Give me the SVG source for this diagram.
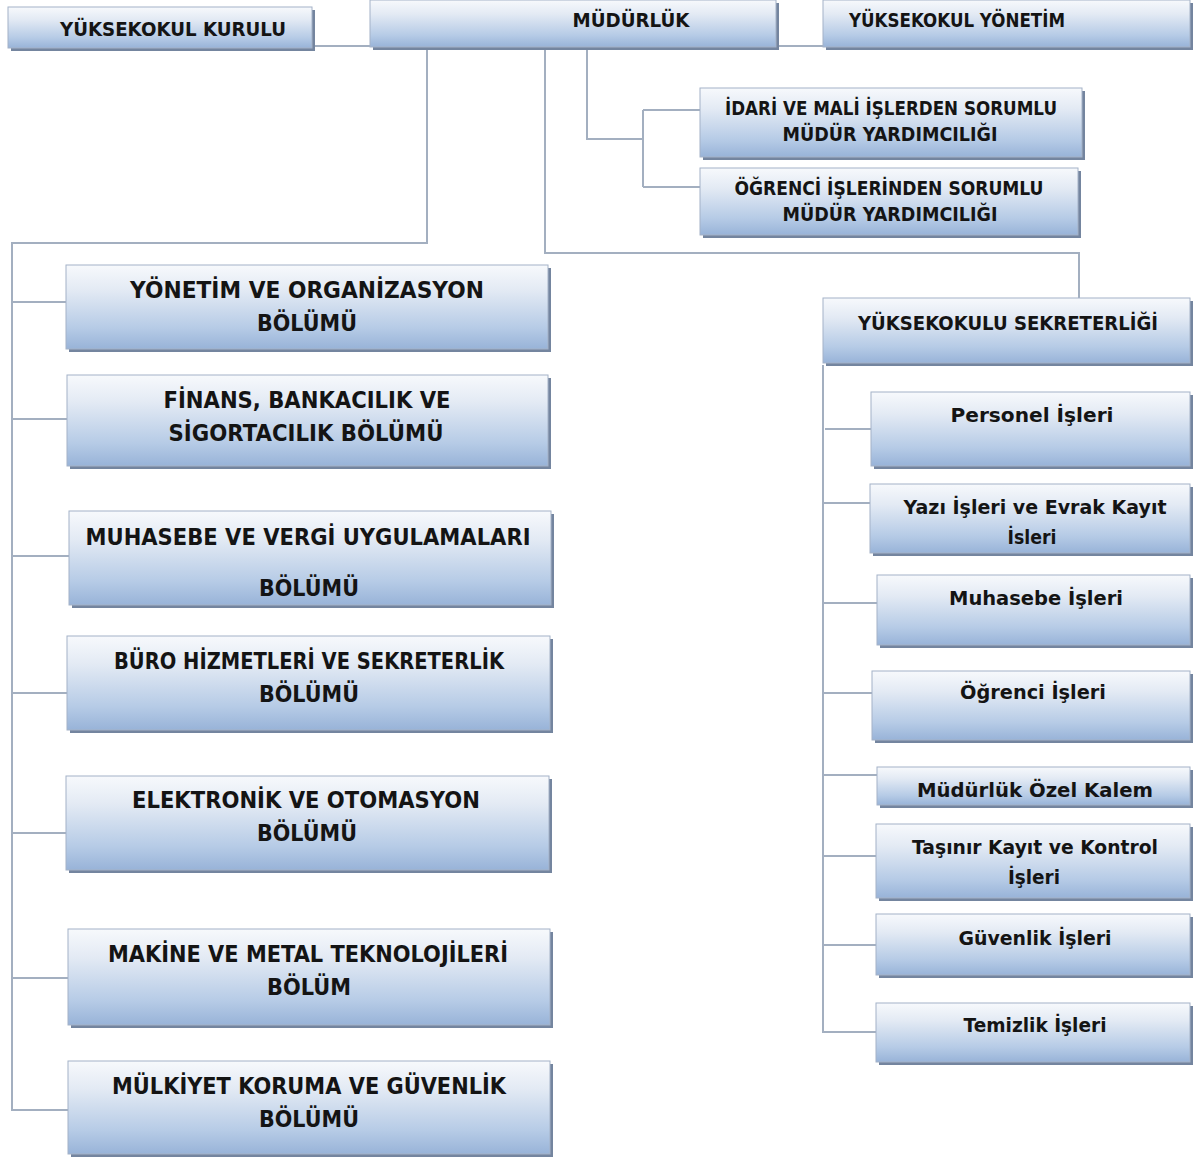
<svg xmlns="http://www.w3.org/2000/svg" width="1194" height="1158" viewBox="0 0 1194 1158">
<defs>
<linearGradient id="g" x1="0" y1="0" x2="0" y2="1">
<stop offset="0" stop-color="#f7f9fc"/>
<stop offset="0.3" stop-color="#e3eaf4"/>
<stop offset="0.75" stop-color="#b6cbe6"/>
<stop offset="1" stop-color="#98b3d8"/>
</linearGradient>
<style>
.s{fill:#74859f}
.b{fill:url(#g);stroke:#a4b2c7;stroke-width:1}
.c{fill:none;stroke:#a3afc0;stroke-width:2}
text{font-family:"DejaVu Sans","Liberation Sans",sans-serif;font-weight:bold;fill:#141414;text-anchor:middle}
.t{font-size:19px}
.l{font-size:23px}
.r{font-size:20px}
</style>
</defs>
<rect width="1194" height="1158" fill="#ffffff"/>
<g id="connectors">
<path class="c" d="M312 46H370M776 46H823"/>
<path class="c" d="M427 48V243H12V1110H68M12 302H66M12 419H67M12 556H69M12 693H67M12 833H66M12 978H68"/>
<path class="c" d="M545 48V253H1079V298"/>
<path class="c" d="M587 48V139H643M643 110V187M643 110H700M643 187H700"/>
<path class="c" d="M823 365V1032H876M825 429H871M823 503H870M823 603H877M823 693H872M823 775H877M823 856H876M823 945H876"/>
</g>
<g id="kurulu"><rect class="s" x="11" y="10" width="304" height="41"/><rect class="b" x="8" y="7" width="304" height="41"/><text class="t" x="173" y="36" textLength="226" lengthAdjust="spacingAndGlyphs">YÜKSEKOKUL KURULU</text></g>
<g id="mudurluk"><rect class="s" x="373" y="3" width="406" height="47"/><rect class="b" x="370" y="0" width="406" height="47"/><text class="t" x="631" y="27" textLength="117" lengthAdjust="spacingAndGlyphs">MÜDÜRLÜK</text></g>
<g id="yonetim"><rect class="s" x="826" y="3" width="367" height="47"/><rect class="b" x="823" y="0" width="367" height="47"/><text class="t" x="957" y="27" textLength="216" lengthAdjust="spacingAndGlyphs">YÜKSEKOKUL YÖNETİM</text></g>
<g id="idari"><rect class="s" x="703" y="91" width="382" height="69"/><rect class="b" x="700" y="88" width="382" height="69"/><text class="t" x="891" y="115" textLength="332" lengthAdjust="spacingAndGlyphs">İDARİ VE MALİ İŞLERDEN SORUMLU</text><text class="t" x="890" y="141" textLength="215" lengthAdjust="spacingAndGlyphs">MÜDÜR YARDIMCILIĞI</text></g>
<g id="ogrenci-yrd"><rect class="s" x="703" y="171" width="378" height="67"/><rect class="b" x="700" y="168" width="378" height="67"/><text class="t" x="889" y="195" textLength="309" lengthAdjust="spacingAndGlyphs">ÖĞRENCİ İŞLERİNDEN SORUMLU</text><text class="t" x="890" y="221" textLength="215" lengthAdjust="spacingAndGlyphs">MÜDÜR YARDIMCILIĞI</text></g>
<g id="b1"><rect class="s" x="69" y="268" width="482" height="84"/><rect class="b" x="66" y="265" width="482" height="84"/><text class="l" x="307" y="298" textLength="354" lengthAdjust="spacingAndGlyphs">YÖNETİM VE ORGANİZASYON</text><text class="l" x="307" y="331" textLength="100" lengthAdjust="spacingAndGlyphs">BÖLÜMÜ</text></g>
<g id="b2"><rect class="s" x="70" y="378" width="481" height="91"/><rect class="b" x="67" y="375" width="481" height="91"/><text class="l" x="307" y="408" textLength="287" lengthAdjust="spacingAndGlyphs">FİNANS, BANKACILIK VE</text><text class="l" x="306" y="441" textLength="275" lengthAdjust="spacingAndGlyphs">SİGORTACILIK BÖLÜMÜ</text></g>
<g id="b3"><rect class="s" x="72" y="514" width="482" height="94"/><rect class="b" x="69" y="511" width="482" height="94"/><text class="l" x="308" y="545" textLength="445" lengthAdjust="spacingAndGlyphs">MUHASEBE VE VERGİ UYGULAMALARI</text><text class="l" x="309" y="596" textLength="100" lengthAdjust="spacingAndGlyphs">BÖLÜMÜ</text></g>
<g id="b4"><rect class="s" x="70" y="639" width="483" height="94"/><rect class="b" x="67" y="636" width="483" height="94"/><text class="l" x="309" y="669" textLength="390" lengthAdjust="spacingAndGlyphs">BÜRO HİZMETLERİ VE SEKRETERLİK</text><text class="l" x="309" y="702" textLength="100" lengthAdjust="spacingAndGlyphs">BÖLÜMÜ</text></g>
<g id="b5"><rect class="s" x="69" y="779" width="483" height="94"/><rect class="b" x="66" y="776" width="483" height="94"/><text class="l" x="306" y="808" textLength="348" lengthAdjust="spacingAndGlyphs">ELEKTRONİK VE OTOMASYON</text><text class="l" x="307" y="841" textLength="100" lengthAdjust="spacingAndGlyphs">BÖLÜMÜ</text></g>
<g id="b6"><rect class="s" x="71" y="932" width="482" height="96"/><rect class="b" x="68" y="929" width="482" height="96"/><text class="l" x="308" y="962" textLength="400" lengthAdjust="spacingAndGlyphs">MAKİNE VE METAL TEKNOLOJİLERİ</text><text class="l" x="309" y="995" textLength="84" lengthAdjust="spacingAndGlyphs">BÖLÜM</text></g>
<g id="b7"><rect class="s" x="71" y="1064" width="482" height="93"/><rect class="b" x="68" y="1061" width="482" height="93"/><text class="l" x="309" y="1094" textLength="394" lengthAdjust="spacingAndGlyphs">MÜLKİYET KORUMA VE GÜVENLİK</text><text class="l" x="309" y="1127" textLength="100" lengthAdjust="spacingAndGlyphs">BÖLÜMÜ</text></g>
<g id="sekreterlik"><rect class="s" x="826" y="301" width="367" height="65"/><rect class="b" x="823" y="298" width="367" height="65"/><text class="t" x="1008" y="330" textLength="300" lengthAdjust="spacingAndGlyphs">YÜKSEKOKULU SEKRETERLİĞİ</text></g>
<g id="personel"><rect class="s" x="874" y="395" width="319" height="74"/><rect class="b" x="871" y="392" width="319" height="74"/><text class="r" x="1032" y="422" textLength="163" lengthAdjust="spacingAndGlyphs">Personel İşleri</text></g>
<g id="yazi"><rect class="s" x="873" y="487" width="320" height="69"/><rect class="b" x="870" y="484" width="320" height="69"/><text class="r" x="1035" y="514" textLength="263" lengthAdjust="spacingAndGlyphs">Yazı İşleri ve Evrak Kayıt</text><text class="r" x="1032" y="544" textLength="49" lengthAdjust="spacingAndGlyphs">İsleri</text></g>
<g id="muhasebe"><rect class="s" x="880" y="578" width="313" height="70"/><rect class="b" x="877" y="575" width="313" height="70"/><text class="r" x="1036" y="605" textLength="174" lengthAdjust="spacingAndGlyphs">Muhasebe İşleri</text></g>
<g id="ogrenci"><rect class="s" x="875" y="674" width="318" height="69"/><rect class="b" x="872" y="671" width="318" height="69"/><text class="r" x="1033" y="699" textLength="146" lengthAdjust="spacingAndGlyphs">Öğrenci İşleri</text></g>
<g id="ozel"><rect class="s" x="880" y="770" width="313" height="38"/><rect class="b" x="877" y="767" width="313" height="38"/><text class="r" x="1035" y="797" textLength="236" lengthAdjust="spacingAndGlyphs">Müdürlük Özel Kalem</text></g>
<g id="tasinir"><rect class="s" x="879" y="827" width="314" height="74"/><rect class="b" x="876" y="824" width="314" height="74"/><text class="r" x="1035" y="854" textLength="246" lengthAdjust="spacingAndGlyphs">Taşınır Kayıt ve Kontrol</text><text class="r" x="1034" y="884" textLength="52" lengthAdjust="spacingAndGlyphs">İşleri</text></g>
<g id="guvenlik"><rect class="s" x="879" y="917" width="314" height="61"/><rect class="b" x="876" y="914" width="314" height="61"/><text class="r" x="1035" y="945" textLength="153" lengthAdjust="spacingAndGlyphs">Güvenlik İşleri</text></g>
<g id="temizlik"><rect class="s" x="879" y="1006" width="314" height="59"/><rect class="b" x="876" y="1003" width="314" height="59"/><text class="r" x="1035" y="1032" textLength="143" lengthAdjust="spacingAndGlyphs">Temizlik İşleri</text></g>
</svg>
